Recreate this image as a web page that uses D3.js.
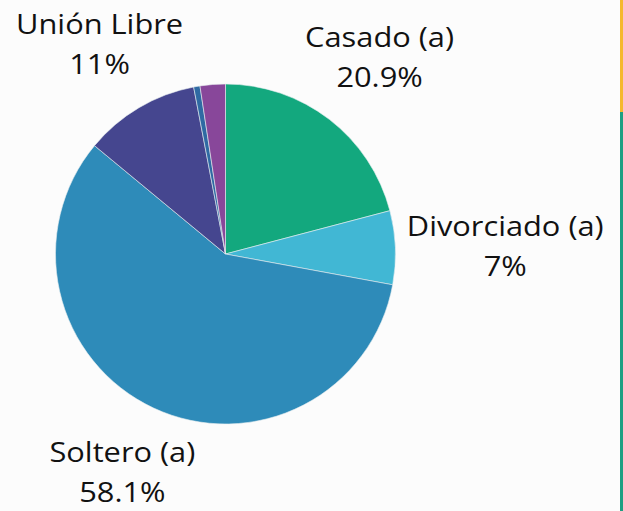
<!DOCTYPE html>
<html>
<head>
<meta charset="utf-8">
<script src="https://cdn.jsdelivr.net/npm/d3@7"></script>
<style>
    body { margin: 0; background: #fcfcfc; }
    svg { display: block; }
    text { font-family: "Open Sans", "Noto Sans", sans-serif; font-size: 28px; fill: #111; }
</style>
</head>
<body>
<div id="container"></div>
<script>
// estado civil (percent)
const categories = ["Casado (a)", "Divorciado (a)", "Soltero (a)", "Unión Libre", "Viudo (a)", "Otro"];
const values = [20.9, 7, 58.1, 11, 0.6, 2.4];
const showLabel = [true, true, true, true, false, false];
const colors = ["#13a87e", "#41b7d4", "#2e8bb9", "#45468f", "#2f6aa3", "#88479a"];

const width = 623;
const height = 511;
const cx = 225.5, cy = 254, radius = 170;

const svg = d3.select("#container").append("svg")
    .attr("width", width)
    .attr("height", height);

// side accent lines
svg.append("line")
    .attr("x1", 621.5).attr("x2", 621.5).attr("y1", 0).attr("y2", 112)
    .attr("stroke", "#f5b82e").attr("stroke-width", 3);
svg.append("line")
    .attr("x1", 621.5).attr("x2", 621.5).attr("y1", 112).attr("y2", height)
    .attr("stroke", "#1c9f82").attr("stroke-width", 3);

const pie = d3.pie().sort(null).value(d => d.value);
const arc = d3.arc().innerRadius(0).outerRadius(radius);

const data = categories.map((c, i) => ({ name: c, value: values[i], label: showLabel[i], color: colors[i] }));
const arcs = pie(data);

const g = svg.append("g").attr("transform", `translate(${cx},${cy})`);

g.selectAll("path")
    .data(arcs)
    .enter().append("path")
    .attr("d", arc)
    .attr("fill", d => d.data.color)
    .attr("stroke", "#e8eef0")
    .attr("stroke-width", 0.6);

// labels pushed out along the mid angle, wider on the sides
const labels = g.selectAll("g.label")
    .data(arcs.filter(d => d.data.label))
    .enter().append("g")
    .attr("class", "label")
    .attr("transform", d => {
        const a = (d.startAngle + d.endAngle) / 2;
        const r = 236 + 44 * Math.sin(a) * Math.sin(a);
        const lift = Math.cos(a) < 0 ? 7 * Math.cos(a) : 0;
        return `translate(${r * Math.sin(a)},${-r * Math.cos(a) + lift}) scale(1.1,1)`;
    });

labels.append("text")
    .attr("text-anchor", "middle")
    .attr("y", -7)
    .text(d => d.data.name);

labels.append("text")
    .attr("text-anchor", "middle")
    .attr("y", 33)
    .text(d => d3.format(".3~")(d.data.value) + "%");
</script>
</body>
</html>
